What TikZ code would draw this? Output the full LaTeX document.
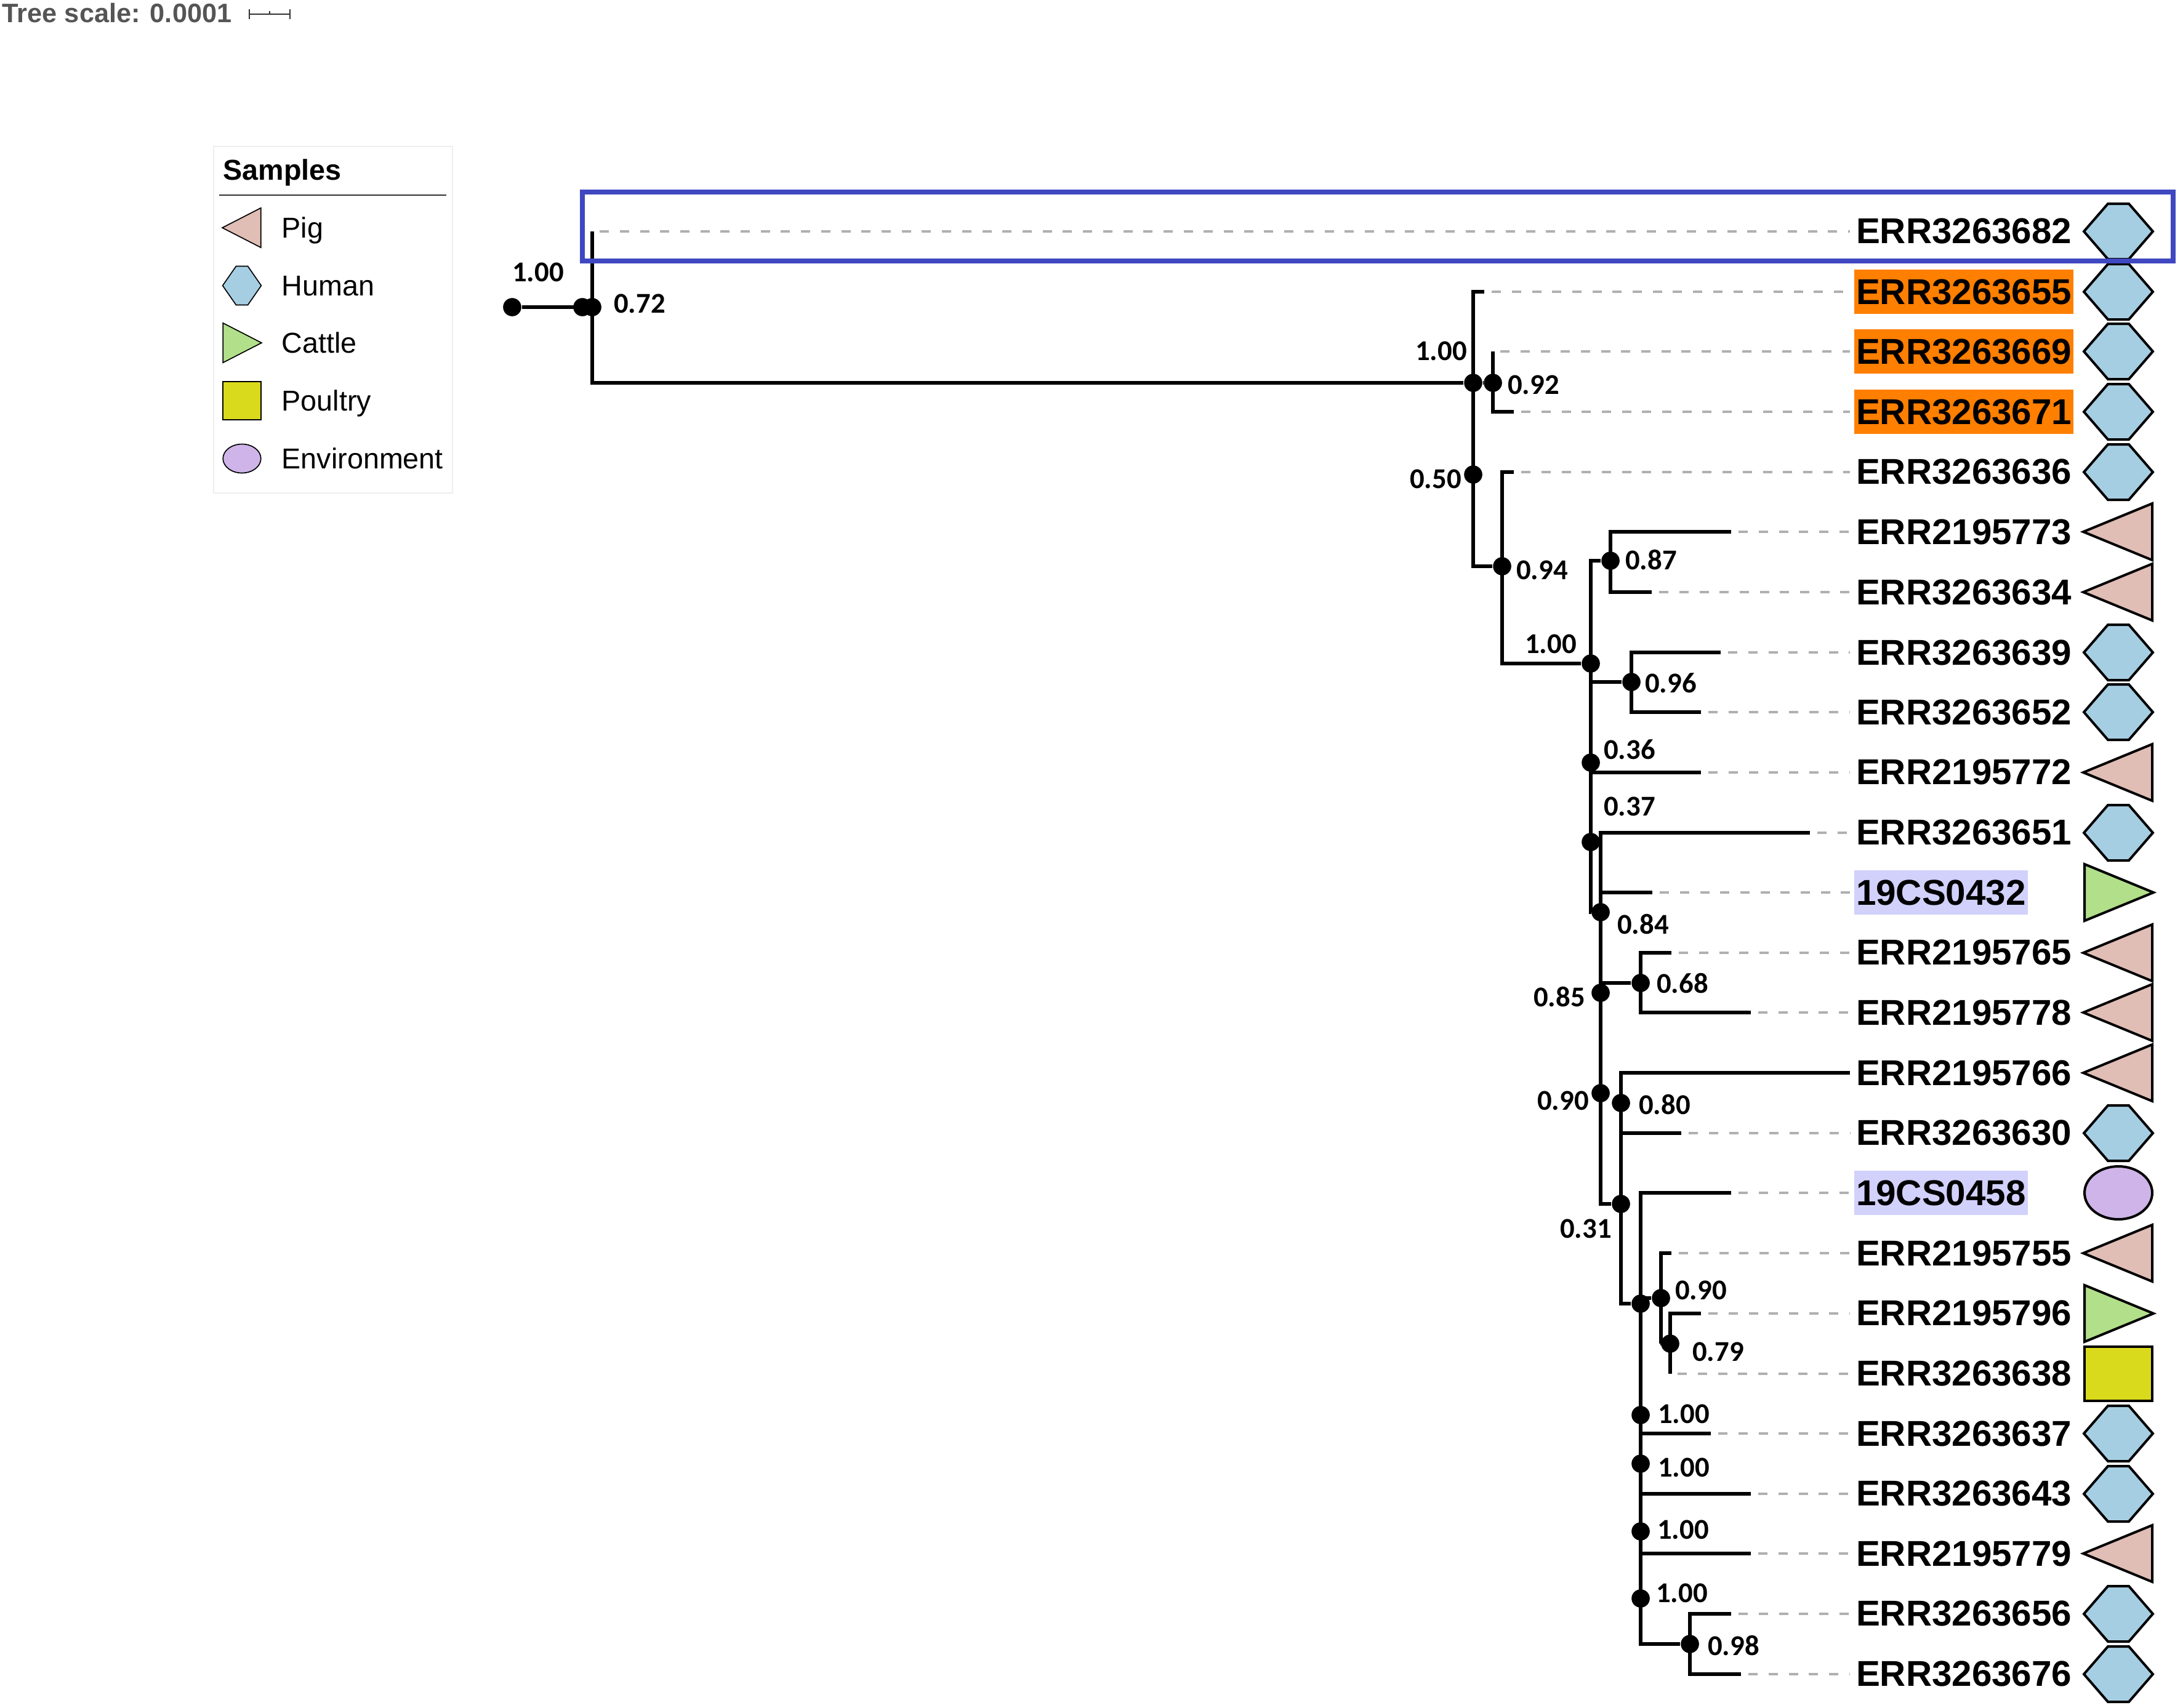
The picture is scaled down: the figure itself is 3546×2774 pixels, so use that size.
\documentclass[tikz,border=0pt]{standalone}
\usepackage{fontspec}
\setmainfont{Liberation Sans}
\newfontfamily\carlito{Carlito}

\definecolor{pigfill}{HTML}{E0BDB5}
\definecolor{humanfill}{HTML}{A6CEE3}
\definecolor{cattlefill}{HTML}{B2DF8A}
\definecolor{poultryfill}{HTML}{DADA1C}
\definecolor{envfill}{HTML}{CEB4E8}
\definecolor{boxblue}{HTML}{3F48C0}
\definecolor{hlorange}{HTML}{FF7F00}
\definecolor{hlblue}{HTML}{D1D1FB}

\tikzset{
  branch/.style={line width=1.45pt},
  guide/.style={line width=0.95pt,draw={rgb,255:red,176;green,176;blue,176},dash pattern=on 3.6pt off 4.25pt,shorten <=2.9pt},
  dot/.style={circle,fill=black,inner sep=0pt,minimum size=7.1pt},
  leaf/.style={anchor=west,inner ysep=0pt,inner xsep=0.72pt,outer xsep=1.68pt,minimum height=17.28pt,font=\fontsize{14}{16}\selectfont\bfseries},
  bs/.style={inner sep=0pt,font=\fontsize{11.2}{13}\selectfont\carlito\bfseries},
  legtext/.style={anchor=west,inner sep=0pt,text depth=0pt,font=\fontsize{11.2}{13}\selectfont},
  symbol/.style={draw=black,line join=miter},
  rowsym/.style={line width=0.96pt},
  legsym/.style={xscale=0.56,yscale=0.7,line width=0.4pt},
  pig/.pic={\draw[symbol,fill=pigfill] (-57,0) -- (55,-46) -- (55,46) -- cycle;},
  human/.pic={\draw[symbol,fill=humanfill] (-56,0) -- (-17,-45) -- (17,-45) -- (56,0) -- (17,45) -- (-17,45) -- cycle;},
  cattle/.pic={\draw[symbol,fill=cattlefill] (-55,-46) -- (57,0) -- (-55,46) -- cycle;},
  poultry/.pic={\draw[symbol,fill=poultryfill] (-55,-44) rectangle (55,44);},
  env/.pic={\draw[symbol,fill=envfill] (0,0) ellipse [x radius=55,y radius=43];},
}

\begin{document}
\begin{tikzpicture}[x=0.24pt,y=-0.24pt]
\useasboundingbox (0,0) rectangle (3546,2774);

% Tree scale
\node[anchor=west,inner sep=0pt,text={rgb,255:red,85;green,85;blue,85},font=\fontsize{10.4}{12}\selectfont\bfseries] (scaletext) at (3,21) {Tree scale: 0.0001};
\coordinate (sbl) at (405,23);
\coordinate (sbr) at (471,23);
\coordinate (sbm) at (438,23);
\draw[line width=0.5pt,draw={rgb,255:red,50;green,50;blue,50}] (sbl) -- (sbr);
\draw[line width=0.5pt,draw={rgb,255:red,50;green,50;blue,50}] ([yshift=2pt]sbl) -- ([yshift=-2pt]sbl);
\draw[line width=0.5pt,draw={rgb,255:red,50;green,50;blue,50}] ([yshift=2pt]sbr) -- ([yshift=-2pt]sbr);
\draw[line width=0.5pt,draw={rgb,255:red,50;green,50;blue,50}] ([yshift=1.2pt]sbm) -- (sbm);

% Legend
\draw[line width=0.3pt,draw={rgb,255:red,238;green,238;blue,238}] (347,238) rectangle (735,801);
\node[anchor=west,inner sep=0pt,text depth=0pt,font=\fontsize{11.2}{13}\selectfont\bfseries] (legtitle) at (362,276) {Samples};
\coordinate (legl) at (356,317);
\coordinate (legr) at (725,317);
\draw[line width=0.4pt,draw={rgb,255:red,50;green,50;blue,50}] (legl) -- (legr);
\pic[legsym] at (393,370) {pig};
\node[legtext] (legpig) at (457,370) {Pig};
\pic[legsym] at (393,464) {human};
\node[legtext] (leghuman) at (457,464) {Human};
\pic[legsym] at (393,557) {cattle};
\node[legtext] (legcattle) at (457,557) {Cattle};
\pic[legsym] at (393,651) {poultry};
\node[legtext] (legpoultry) at (457,651) {Poultry};
\pic[legsym,yscale=0.78] at (393,745) {env};
\node[legtext] (legenv) at (457,745) {Environment};

% Leaf labels
\node[leaf] (r0) at (3005,375) {ERR3263682};
\node[leaf,fill=hlorange] (r1) at (3005,474) {ERR3263655};
\node[leaf,fill=hlorange] (r2) at (3005,571) {ERR3263669};
\node[leaf,fill=hlorange] (r3) at (3005,669) {ERR3263671};
\node[leaf] (r4) at (3005,766) {ERR3263636};
\node[leaf] (r5) at (3005,864) {ERR2195773};
\node[leaf] (r6) at (3005,962) {ERR3263634};
\node[leaf] (r7) at (3005,1060) {ERR3263639};
\node[leaf] (r8) at (3005,1157) {ERR3263652};
\node[leaf] (r9) at (3005,1254) {ERR2195772};
\node[leaf] (r10) at (3005,1352) {ERR3263651};
\node[leaf,fill=hlblue] (r11) at (3005,1450) {19CS0432};
\node[leaf] (r12) at (3005,1547) {ERR2195765};
\node[leaf] (r13) at (3005,1645) {ERR2195778};
\node[leaf] (r14) at (3005,1743) {ERR2195766};
\node[leaf] (r15) at (3005,1840) {ERR3263630};
\node[leaf,fill=hlblue] (r16) at (3005,1938) {19CS0458};
\node[leaf] (r17) at (3005,2036) {ERR2195755};
\node[leaf] (r18) at (3005,2133) {ERR2195796};
\node[leaf] (r19) at (3005,2231) {ERR3263638};
\node[leaf] (r20) at (3005,2329) {ERR3263637};
\node[leaf] (r21) at (3005,2426) {ERR3263643};
\node[leaf] (r22) at (3005,2524) {ERR2195779};
\node[leaf] (r23) at (3005,2621) {ERR3263656};
\node[leaf] (r24) at (3005,2719) {ERR3263676};

% Sample symbols
\pic[rowsym] at (3441,376) {human};
\pic[rowsym] at (3441,474) {human};
\pic[rowsym] at (3441,571) {human};
\pic[rowsym] at (3441,669) {human};
\pic[rowsym] at (3441,767) {human};
\pic[rowsym] at (3441,864) {pig};
\pic[rowsym] at (3441,962) {pig};
\pic[rowsym] at (3441,1060) {human};
\pic[rowsym] at (3441,1157) {human};
\pic[rowsym] at (3441,1255) {pig};
\pic[rowsym] at (3441,1353) {human};
\pic[rowsym] at (3441,1450) {cattle};
\pic[rowsym] at (3441,1548) {pig};
\pic[rowsym] at (3441,1645) {pig};
\pic[rowsym] at (3441,1743) {pig};
\pic[rowsym] at (3441,1841) {human};
\pic[rowsym] at (3441,1938) {env};
\pic[rowsym] at (3441,2036) {pig};
\pic[rowsym] at (3441,2134) {cattle};
\pic[rowsym] at (3441,2232) {poultry};
\pic[rowsym] at (3441,2329) {human};
\pic[rowsym] at (3441,2427) {human};
\pic[rowsym] at (3441,2524) {pig};
\pic[rowsym] at (3441,2622) {human};
\pic[rowsym] at (3441,2720) {human};

% Branch tips
\coordinate (t0) at (962,376);
\coordinate (t1) at (2411,474);
\coordinate (t2) at (2425,571);
\coordinate (t3) at (2459,669);
\coordinate (t4) at (2459,767);
\coordinate (t5) at (2812,864);
\coordinate (t6) at (2683,962);
\coordinate (t7) at (2795,1060);
\coordinate (t8) at (2763,1157);
\coordinate (t9) at (2763,1255);
\coordinate (t10) at (2940,1353);
\coordinate (t11) at (2684,1450);
\coordinate (t12) at (2715,1548);
\coordinate (t13) at (2844,1645);
\coordinate (t14) at (3005,1743);
\coordinate (t15) at (2731,1841);
\coordinate (t16) at (2812,1938);
\coordinate (t17) at (2715,2036);
\coordinate (t18) at (2763,2134);
\coordinate (t19) at (2713,2232);
\coordinate (t20) at (2779,2329);
\coordinate (t21) at (2844,2427);
\coordinate (t22) at (2844,2524);
\coordinate (t23) at (2812,2622);
\coordinate (t24) at (2828,2720);

% Dotted leaders
\draw[guide] (t0) -- (r0.west |- t0);
\draw[guide] (t1) -- (r1.west);
\draw[guide] (t2) -- (r2.west);
\draw[guide] (t3) -- (r3.west);
\draw[guide] (t4) -- (r4.west |- t4);
\draw[guide] (t5) -- (r5.west);
\draw[guide] (t6) -- (r6.west);
\draw[guide] (t7) -- (r7.west);
\draw[guide] (t8) -- (r8.west);
\draw[guide] (t9) -- (r9.west |- t9);
\draw[guide] (t10) -- (r10.west |- t10);
\draw[guide] (t11) -- (r11.west);
\draw[guide] (t12) -- (r12.west |- t12);
\draw[guide] (t13) -- (r13.west);
\draw[guide] (t15) -- (r15.west |- t15);
\draw[guide] (t16) -- (r16.west);
\draw[guide] (t17) -- (r17.west);
\draw[guide] (t18) -- (r18.west |- t18);
\draw[guide] (t19) -- (r19.west |- t19);
\draw[guide] (t20) -- (r20.west);
\draw[guide] (t21) -- (r21.west |- t21);
\draw[guide] (t22) -- (r22.west);
\draw[guide] (t23) -- (r23.west |- t23);
\draw[guide] (t24) -- (r24.west |- t24);

% Support dots
\node[dot] (nroot) at (832,499) {};
\node[dot] (nbase) at (946,499) {};
\node[dot] (ntop) at (962,499) {};
\node[dot] (ncl) at (2393,622) {};
\node[dot] (nor) at (2425,622) {};
\node[dot] (nhalf) at (2393,771) {};
\node[dot] (nrest) at (2440,920) {};
\node[dot] (nmain) at (2584,1078) {};
\node[dot] (np73) at (2616,911) {};
\node[dot] (nh39) at (2650,1108) {};
\node[dot] (np72) at (2584,1239) {};
\node[dot] (nh51) at (2584,1368) {};
\node[dot] (nlow) at (2600,1482) {};
\node[dot] (nlowb) at (2600,1613) {};
\node[dot] (np65) at (2665,1597) {};
\node[dot] (nlowc) at (2600,1776) {};
\node[dot] (np66) at (2633,1792) {};
\node[dot] (ncs) at (2633,1956) {};
\node[dot] (nend) at (2665,2118) {};
\node[dot] (np55) at (2698,2109) {};
\node[dot] (nc96) at (2713,2183) {};
\node[dot] (nh37) at (2665,2299) {};
\node[dot] (nh43) at (2665,2378) {};
\node[dot] (np79) at (2665,2488) {};
\node[dot] (nh56a) at (2665,2597) {};
\node[dot] (nh56) at (2745,2671) {};

% Corners and side joins
\coordinate (ca) at (2393,920);
\coordinate (cb) at (2440,1078);
\coordinate (cc) at (2584,1482);
\coordinate (cd) at (2584,1108);
\coordinate (ce) at (2584,1255);
\coordinate (cf) at (2600,1956);
\coordinate (cg) at (2600,1450);
\coordinate (ch) at (2600,1597);
\coordinate (ci) at (2633,2118);
\coordinate (cj) at (2633,1841);
\coordinate (ck) at (2665,2671);
\coordinate (cl) at (2665,2109);
\coordinate (cm) at (2698,2183);
\coordinate (cn) at (2665,2329);
\coordinate (co) at (2665,2427);
\coordinate (cp) at (2665,2524);

% Branches
\draw[branch] (nroot) -- (ntop);
\draw[branch] (t0) |- (ncl);
\draw[branch] (t1) -| (ca) -- (nrest);
\draw[branch] (ncl) -- (nor);
\draw[branch] (t2) |- (t3);
\draw[branch] (t4) -| (cb) -- (nmain);
\draw[branch] (np73) -| (cc) -- (nlow);
\draw[branch] (t5) -| (np73.center) |- (t6);
\draw[branch] (cd) -- (nh39);
\draw[branch] (t7) -| (nh39.center) |- (t8);
\draw[branch] (ce) -- (t9);
\draw[branch] (t10) -| (cf) -- (ncs);
\draw[branch] (cg) -- (t11);
\draw[branch] (ch) -- (np65);
\draw[branch] (t12) -| (np65.center) |- (t13);
\draw[branch] (t14) -| (ci) -- (nend);
\draw[branch] (cj) -- (t15);
\draw[branch] (t16) -| (ck) -- (nh56);
\draw[branch] (cl) -- (np55);
\draw[branch] (t17) -| (cm) -- (nc96);
\draw[branch] (t18) -| (t19);
\draw[branch] (cn) -- (t20);
\draw[branch] (co) -- (t21);
\draw[branch] (cp) -- (t22);
\draw[branch] (t23) -| (nh56.center) |- (t24);

% Support values
\node[bs] (s1) at (874,442) {1.00};
\node[bs] (s2) at (1039,493) {0.72};
\node[bs] (s3) at (2341,570) {1.00};
\node[bs] (s4) at (2491,625) {0.92};
\node[bs] (s5) at (2332,778) {0.50};
\node[bs] (s6) at (2505,926) {0.94};
\node[bs] (s7) at (2682,910) {0.87};
\node[bs] (s8) at (2519,1046) {1.00};
\node[bs] (s9) at (2714,1110) {0.96};
\node[bs] (s10) at (2647,1218) {0.36};
\node[bs] (s11) at (2647,1310) {0.37};
\node[bs] (s12) at (2669,1502) {0.84};
\node[bs] (s13) at (2733,1598) {0.68};
\node[bs] (s14) at (2533,1620) {0.85};
\node[bs] (s15) at (2539,1788) {0.90};
\node[bs] (s16) at (2704,1795) {0.80};
\node[bs] (s17) at (2576,1996) {0.31};
\node[bs] (s18) at (2763,2096) {0.90};
\node[bs] (s19) at (2791,2196) {0.79};
\node[bs] (s20) at (2735,2297) {1.00};
\node[bs] (s21) at (2735,2384) {1.00};
\node[bs] (s22) at (2734,2485) {1.00};
\node[bs] (s23) at (2732,2588) {1.00};
\node[bs] (s24) at (2816,2674) {0.98};

% Highlight box
\draw[line width=1.8pt,draw=boxblue] (946,312) rectangle (3530,424);

\end{tikzpicture}
\end{document}
